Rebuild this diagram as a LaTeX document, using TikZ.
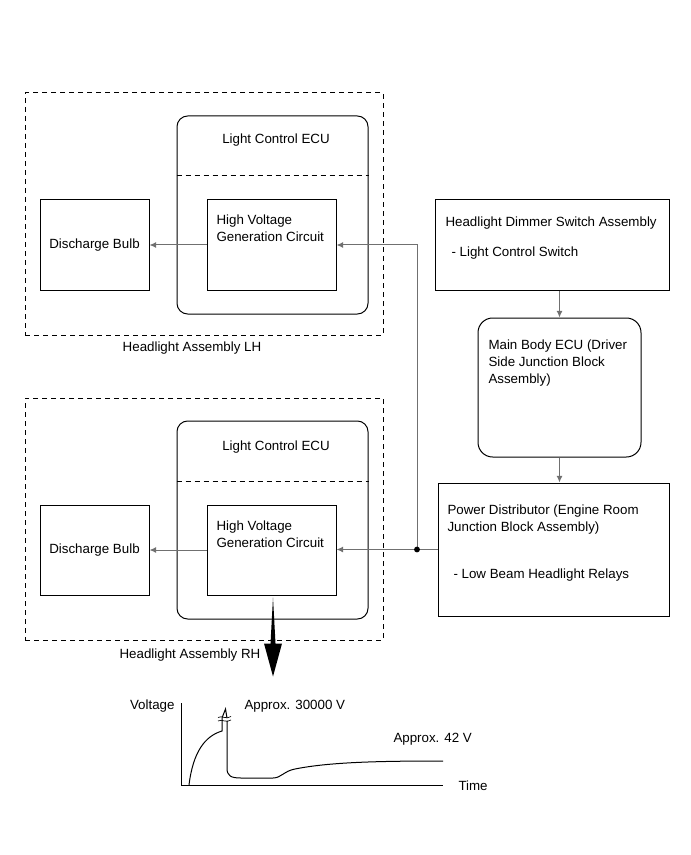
\documentclass[tikz,border=0pt]{standalone}
\usepackage{fontspec}
\setmainfont{Liberation Sans}
\usepackage{tikz}
\usetikzlibrary{positioning,arrows.meta,calc}
\definecolor{wiregray}{HTML}{707070}

\tikzset{
  blk/.style={draw, line width=0.75pt},
  ecubox/.style={blk, rounded corners=8pt},
  dashframe/.style={draw, line width=0.75pt, dash pattern=on 3.75pt off 3pt},
  wire/.style={draw=wiregray, line width=0.75pt, -{Latex[length=5pt,width=4.5pt]}},
  lbl/.style={align=left, anchor=north west},
}

\begin{document}
\begin{tikzpicture}[x=0.75pt, y=-0.75pt, inner sep=0pt, line width=0.75pt, font=\fontsize{10}{13}\selectfont]
    \useasboundingbox (0,0) rectangle (691,855);

    \node[dashframe, minimum width=268.5pt, minimum height=181.5pt] (framelh) at (204,214) {};
    \node[ecubox, minimum width=143.25pt, minimum height=148.5pt] (eculh) at (272.5,215) {};
    \draw[dashframe] (eculh.west |- 0,176) -- (eculh.east |- 0,176);
    \node (ecunamelh) at (276,140) {Light Control ECU};
    \node[blk, minimum width=96.75pt, minimum height=67.5pt] (hvlh) at (271.5,245) {};
    \node[lbl] (hvnamelh) at (216,214) {High Voltage\\Generation Circuit};
    \node[blk, minimum width=81.75pt, minimum height=67.5pt] (bulblh) at (94.5,245) {Discharge Bulb};
    \node (asmlh) at (192,348) {Headlight Assembly LH};
    \draw[wire] (hvlh) -- (bulblh);

    \node[dashframe, minimum width=268.5pt, minimum height=181.5pt] (framerh) at (204,519) {};
    \node[ecubox, minimum width=143.25pt, minimum height=148.5pt] (ecurh) at (272.5,520) {};
    \draw[dashframe] (ecurh.west |- 0,481) -- (ecurh.east |- 0,481);
    \node (ecunamerh) at (276,447) {Light Control ECU};
    \node[blk, minimum width=96.75pt, minimum height=67.5pt] (hvrh) at (271.5,550) {};
    \node[lbl] (hvnamerh) at (216,520) {High Voltage\\Generation Circuit};
    \node[blk, minimum width=81.75pt, minimum height=67.5pt] (bulbrh) at (94.5,550) {Discharge Bulb};
    \node (asmrh) at (190,655) {Headlight Assembly RH};
    \draw[wire] (hvrh) -- (bulbrh);

    \node[blk, minimum width=175.5pt, minimum height=67.5pt] (dimmer) at (552,245) {};
    \node[lbl] (dimmername) at (445,216) {Headlight Dimmer Switch Assembly};
    \node[lbl] (dimmersw) at (451,246) {- Light Control Switch};
    \node[ecubox, rounded corners=11pt, minimum width=122.25pt, minimum height=104.25pt] (bodyecu) at (559.5,387.5) {};
    \node[lbl] (bodyname) at (488,339) {Main Body ECU (Driver\\Side Junction Block\\Assembly)};
    \node[blk, minimum width=173.25pt, minimum height=99.75pt] (powerdist) at (553.5,549.5) {};
    \node[lbl] (powername) at (447,504) {Power Distributor (Engine Room\\Junction Block Assembly)};
    \node[lbl] (relays) at (453,568) {- Low Beam Headlight Relays};

    \draw[wire] (dimmer.south -| bodyecu.north) -- (bodyecu.north);
    \draw[wire] (bodyecu.south) -- (bodyecu.south |- powerdist.north);
    \coordinate (split) at (417,549.5);
    \draw[wire] (powerdist.west) -- (powerdist.west -| hvrh.east);
    \draw[wire] (split) |- (hvlh.east);
    \fill (split) circle (2.2pt);

    \fill (hvrh.south) ++(1.5,2) -- ++(2.5,46) -- ++(6.5,0) -- ++(-9,33) -- ++(-9,-33) -- ++(6.5,0) -- cycle;

    \draw (181,703) -- (181,785.5) -- (443,785.5);
    \node[anchor=east] (voltlbl) at (175,706) {Voltage};
    \node[anchor=west] (timelbl) at (458,786) {Time};
    \node[anchor=west] (peaklbl) at (244,706) {Approx. 30000 V};
    \node[anchor=west] (steadylbl) at (393,739) {Approx. 42 V};
    \draw (189,785) .. controls (193,752) and (205,736) .. (222,731) -- (222,718) -- (225.5,709) -- (227,718);
    \draw (227,720.5) -- (227,768) .. controls (227,776) and (231,778) .. (241,778) -- (273,778) .. controls (281,778) and (284,771) .. (295,769) .. controls (330,762) and (380,761) .. (443,761);
    \draw[line width=0.5pt] (218,717.5) .. controls (222,715) and (226,720) .. (231,716.5);
    \draw[line width=0.5pt] (218,721) .. controls (222,718.5) and (226,723.5) .. (231,720);
  \end{tikzpicture}
\end{document}
